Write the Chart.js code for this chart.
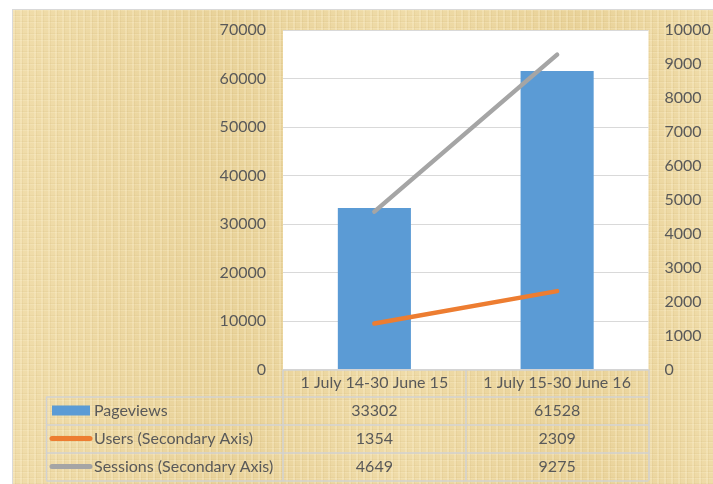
<!DOCTYPE html>
<html>
<head>
<meta charset="utf-8">
<script src="https://cdn.jsdelivr.net/npm/chart.js@4"></script>
<style>
    body { margin: 0; background: #fff; }
    #wrap { position: relative; width: 713px; height: 484px; overflow: hidden; }
    /* papyrus-like paper behind the chart */
    #paper {
        position: absolute; left: 12px; top: 9px; right: -2px; bottom: -2px;
        border: 1px solid #d9d9d9;
        background-color: #ebd6a0;
        background-image:
            repeating-linear-gradient(90deg, rgba(255,245,215,0.25) 0 2px, rgba(190,160,90,0.10) 2px 3px, rgba(255,240,200,0.0) 3px 7px),
            repeating-linear-gradient(0deg, rgba(255,245,215,0.20) 0 1px, rgba(190,160,90,0.10) 1px 2px, rgba(255,240,200,0.0) 2px 6px),
            linear-gradient(90deg, rgba(255,240,200,0.25), rgba(220,190,120,0.15) 30%, rgba(255,240,200,0.2) 55%, rgba(225,195,125,0.2) 80%, rgba(255,240,200,0.2));
    }
    canvas { position: absolute; left: 0; top: 0; }
</style>
</head>
<body>
<div id="wrap">
    <div id="paper"></div>
    <canvas id="chart" width="713" height="484"></canvas>
</div>
<script>
const categories = ['1 July 14-30 June 15', '1 July 15-30 June 16'];
const pageviews = [33302, 61528];
const users = [1354, 2309];
const sessions = [4649, 9275];

const seriesNames = ['Pageviews', 'Users (Secondary Axis)', 'Sessions (Secondary Axis)'];
const seriesColors = ['#5b9bd5', '#ed7d31', '#a5a5a5'];

const textColor = '#595959';
const gridColor = '#d9d9d9';
const tableLineColor = '#d2d2d2';
const fontFamily = 'Lato, "Open Sans", sans-serif';
const fontSize = 16;

// white plot area behind the bars
const plotBackground = {
    id: 'plotBackground',
    beforeDraw(chart) {
        const { ctx, chartArea: a } = chart;
        ctx.save();
        ctx.fillStyle = '#fff';
        ctx.fillRect(a.left, a.top, a.right - a.left, a.bottom - a.top);
        ctx.restore();
    }
};

// data table under the x axis (values come from the arrays above)
const dataTable = {
    id: 'dataTable',
    afterDraw(chart) {
        const { ctx, chartArea: a, scales } = chart;
        const x = scales.x;
        const rowH = 28;
        const headTop = a.bottom;
        const bodyTop = headTop + 27;
        const tableLeft = 46.5;
        const rows = [pageviews, users, sessions];

        ctx.save();
        ctx.strokeStyle = tableLineColor;
        ctx.lineWidth = 1.5;

        // vertical borders between columns
        const edges = [a.left];
        for (let i = 0; i < categories.length - 1; i++) {
            edges.push((x.getPixelForValue(i) + x.getPixelForValue(i + 1)) / 2);
        }
        edges.push(a.right);
        const bottom = bodyTop + rowH * rows.length;
        ctx.beginPath();
        edges.forEach(e => {
            const px = Math.round(e);
            ctx.moveTo(px, headTop);
            ctx.lineTo(px, bottom);
        });
        ctx.moveTo(tableLeft, bodyTop);
        ctx.lineTo(tableLeft, bottom);
        // horizontal borders
        ctx.moveTo(a.left, Math.round(headTop));
        ctx.lineTo(a.right, Math.round(headTop));
        for (let r = 0; r <= rows.length; r++) {
            const py = Math.round(bodyTop + r * rowH);
            ctx.moveTo(tableLeft, py);
            ctx.lineTo(a.right, py);
        }
        ctx.stroke();

        ctx.font = fontSize + 'px ' + fontFamily;
        ctx.fillStyle = textColor;
        ctx.textBaseline = 'middle';
        rows.forEach((vals, r) => {
            const cy = bodyTop + r * rowH + rowH / 2;
            // legend key
            if (r === 0) {
                ctx.fillStyle = seriesColors[0];
                ctx.fillRect(52, cy - 5, 38, 10);
            } else {
                ctx.strokeStyle = seriesColors[r];
                ctx.lineWidth = 5;
                ctx.lineCap = 'round';
                ctx.beginPath();
                ctx.moveTo(52, cy);
                ctx.lineTo(90, cy);
                ctx.stroke();
            }
            ctx.fillStyle = textColor;
            ctx.textAlign = 'left';
            ctx.fillText(seriesNames[r], 94, cy);
            ctx.textAlign = 'center';
            vals.forEach((v, i) => {
                ctx.fillText(String(v), x.getPixelForValue(i), cy);
            });
        });
        ctx.restore();
    }
};

const plainNumber = v => String(v);

new Chart(document.getElementById('chart'), {
    data: {
        labels: categories,
        datasets: [
            {
                type: 'bar',
                label: seriesNames[0],
                data: pageviews,
                backgroundColor: seriesColors[0],
                yAxisID: 'y',
                categoryPercentage: 1,
                barPercentage: 0.4,
                order: 2
            },
            {
                type: 'line',
                label: seriesNames[1],
                data: users,
                borderColor: seriesColors[1],
                borderWidth: 4.5,
                borderCapStyle: 'round',
                pointRadius: 0,
                yAxisID: 'y1',
                order: 1
            },
            {
                type: 'line',
                label: seriesNames[2],
                data: sessions,
                borderColor: seriesColors[2],
                borderWidth: 4.5,
                borderCapStyle: 'round',
                pointRadius: 0,
                yAxisID: 'y1',
                order: 1
            }
        ]
    },
    options: {
        responsive: false,
        animation: false,
        layout: { padding: { top: 30, left: 0, right: 0, bottom: 0 } },
        plugins: {
            legend: { display: false },
            tooltip: { enabled: false }
        },
        scales: {
            x: {
                offset: true,
                grid: { display: false, drawTicks: false },
                border: { display: false },
                ticks: {
                    color: textColor,
                    font: { family: fontFamily, size: fontSize },
                    padding: 4,
                    maxRotation: 0
                },
                afterFit(scale) { scale.height = 114.5; }
            },
            y: {
                position: 'left',
                min: 0,
                max: 70000,
                ticks: {
                    stepSize: 10000,
                    color: textColor,
                    font: { family: fontFamily, size: fontSize },
                    padding: 17,
                    callback: plainNumber
                },
                grid: { color: gridColor, drawTicks: false },
                border: { display: false },
                afterFit(scale) { scale.width = 283; }
            },
            y1: {
                position: 'right',
                min: 0,
                max: 10000,
                ticks: {
                    stepSize: 1000,
                    color: textColor,
                    font: { family: fontFamily, size: fontSize },
                    padding: 16,
                    callback: plainNumber
                },
                grid: { display: false, drawTicks: false },
                border: { display: false },
                afterFit(scale) { scale.width = 64.5; }
            }
        }
    },
    plugins: [plotBackground, dataTable]
});
</script>
</body>
</html>
